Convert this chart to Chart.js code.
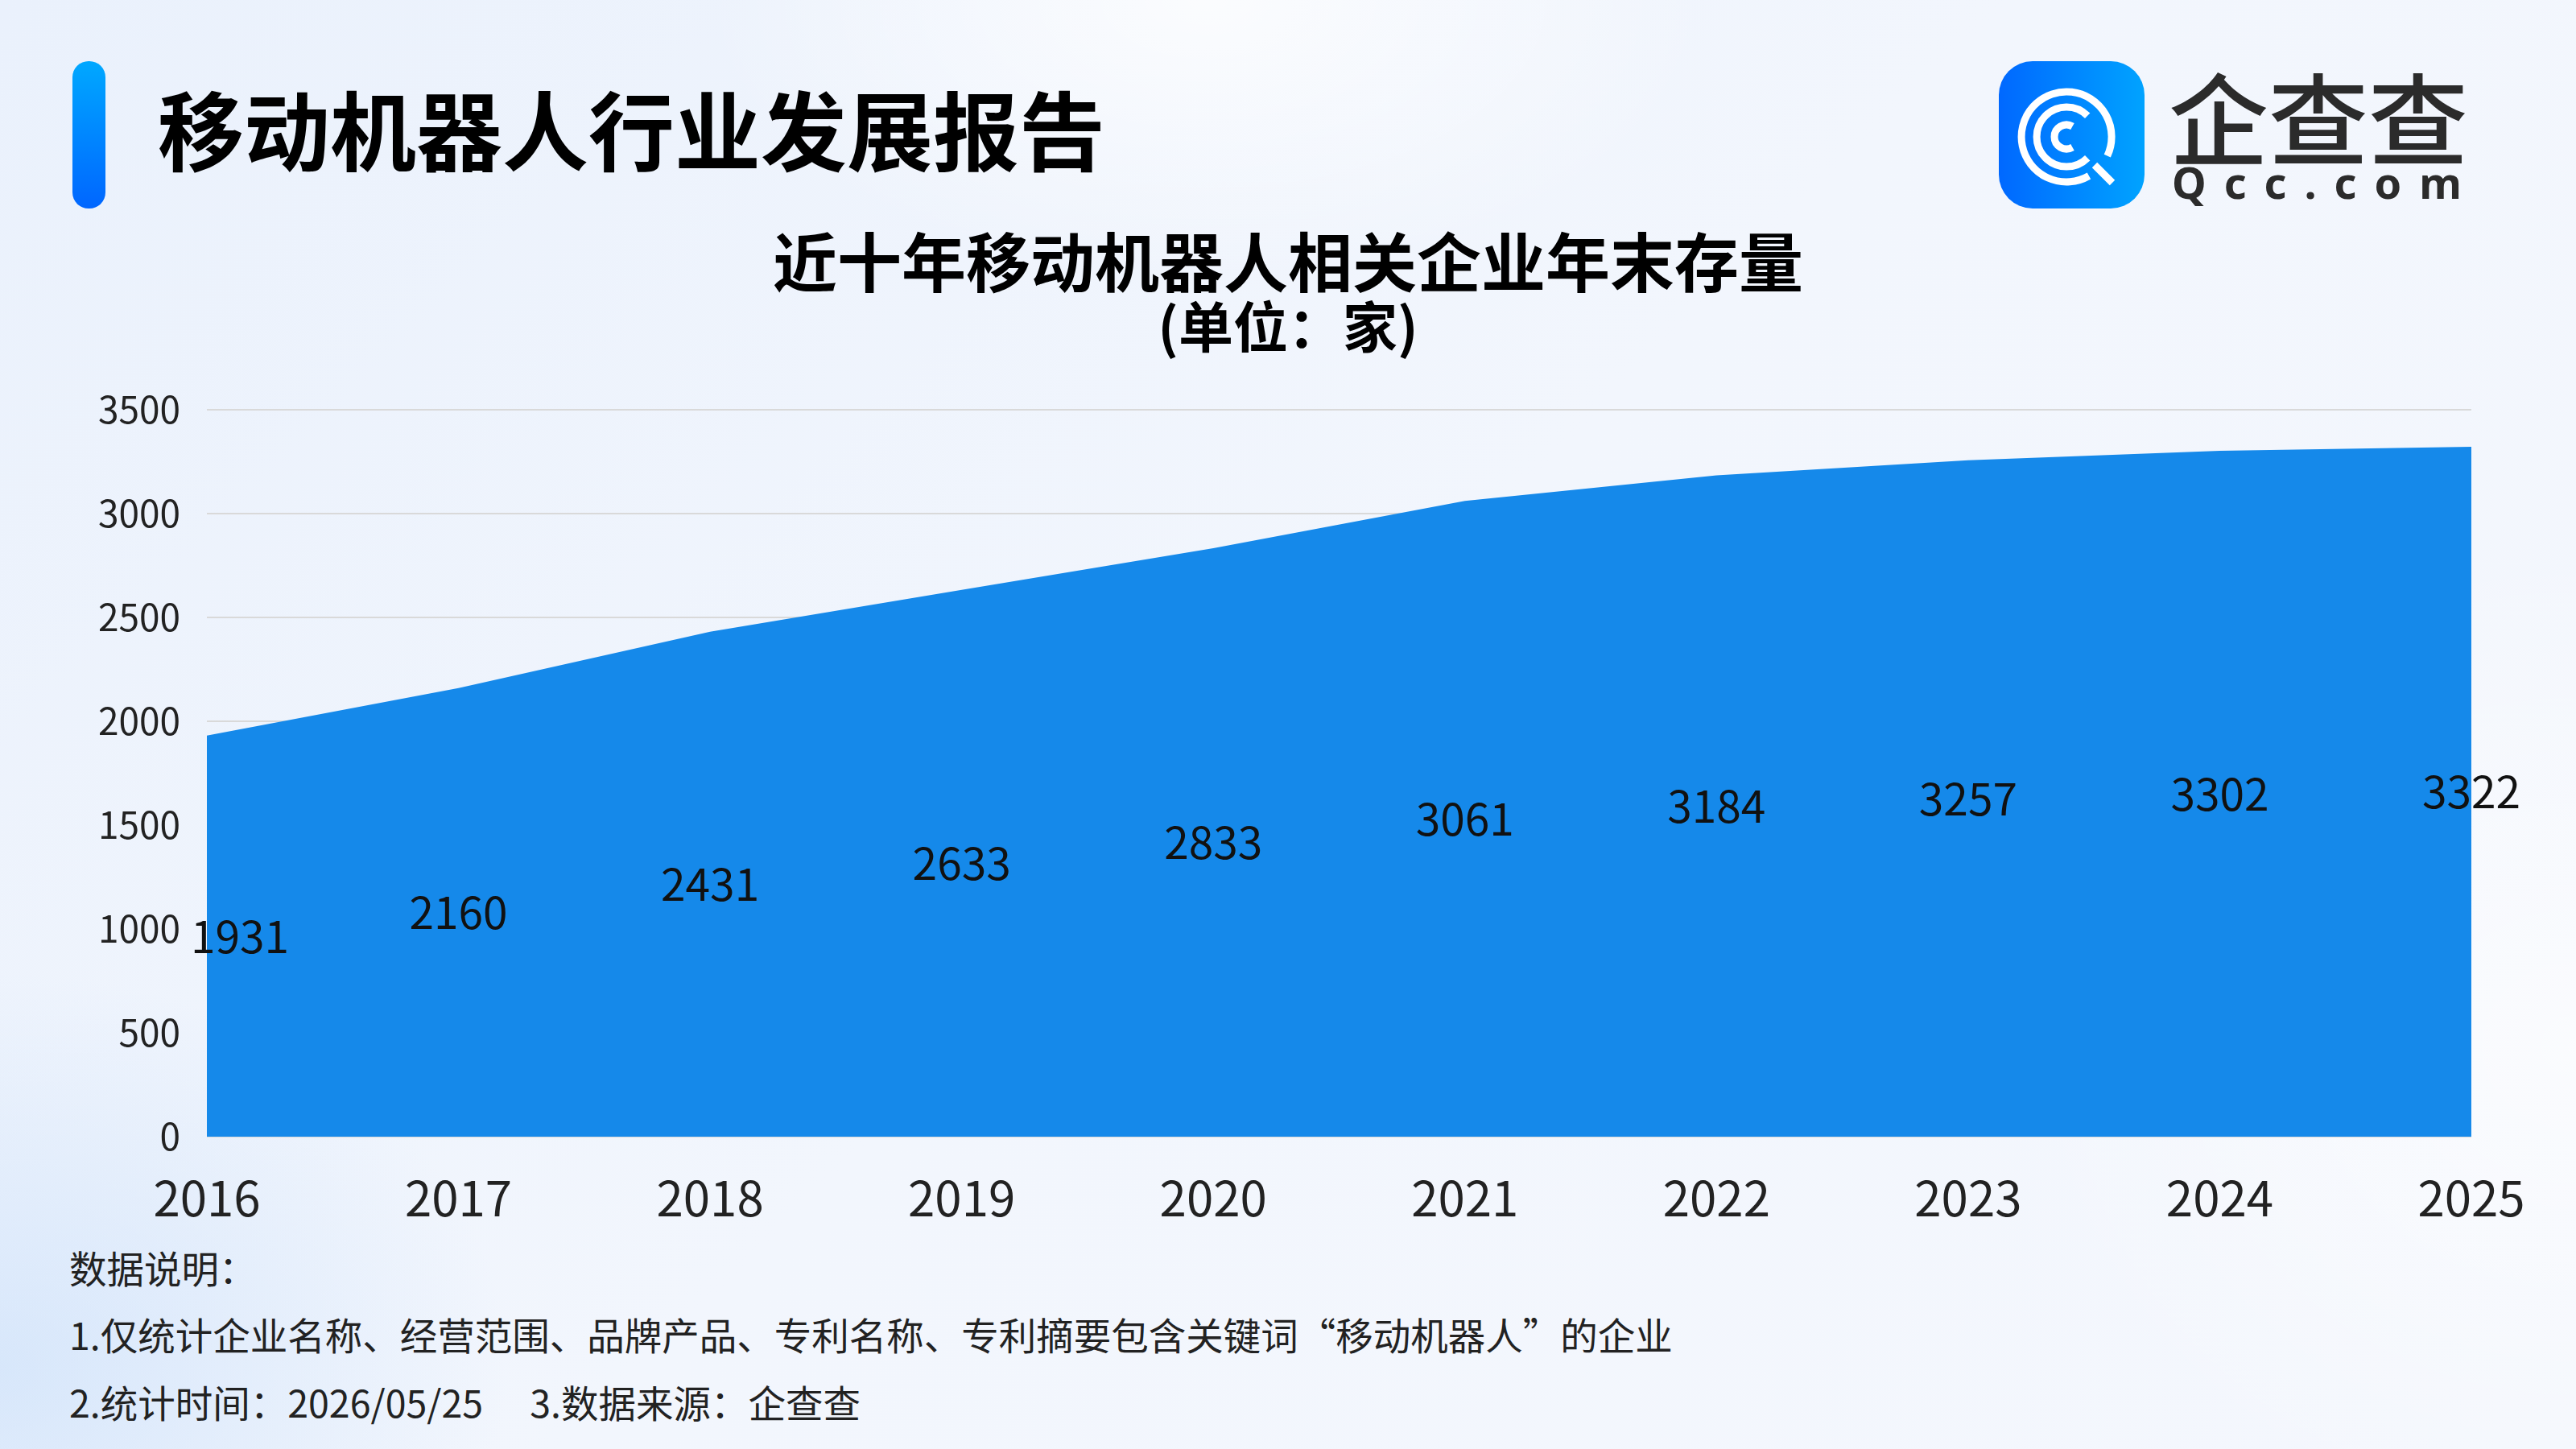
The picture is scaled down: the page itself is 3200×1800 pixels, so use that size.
<!DOCTYPE html>
<html lang="zh-CN">
<head>
<meta charset="utf-8">
<title>移动机器人行业发展报告</title>
<script src="https://cdn.jsdelivr.net/npm/chart.js@4.4.1/dist/chart.umd.min.js"></script>
<style>
    html, body {
        margin: 0;
        padding: 0;
    }
    body {
        width: 3200px;
        height: 1800px;
        position: relative;
        overflow: hidden;
        font-family: 'Noto Sans CJK SC', 'Noto Sans', sans-serif;
        color: #111;
        background:
            radial-gradient(ellipse 900px 500px at 1500px 0px, rgba(255,255,255,0.75), rgba(255,255,255,0) 70%),
            radial-gradient(ellipse 1000px 900px at 3200px 1300px, rgba(255,255,255,0.6), rgba(255,255,255,0) 70%),
            radial-gradient(ellipse 900px 700px at 0px 1700px, rgba(205,225,250,0.7), rgba(205,225,250,0) 70%),
            linear-gradient(135deg, #eaf1fc 0%, #f2f6fd 50%, #f4f7fd 100%);
    }
    .bar {
        position: absolute;
        left: 90px;
        top: 76px;
        width: 41px;
        height: 183px;
        border-radius: 20px;
        background: linear-gradient(180deg, #00a8ff 0%, #0066ff 100%);
    }
    .head {
        position: absolute;
        left: 196px;
        top: 95px;
        font-size: 107px;
        line-height: 126px;
        font-weight: 700;
        color: #000;
    }
    .logo-icon {
        position: absolute;
        left: 2483px;
        top: 76px;
    }
    .logo-name {
        position: absolute;
        left: 2694px;
        top: 80px;
        font-size: 124px;
        line-height: 124px;
        font-weight: 500;
        color: #2b2b2b;
    }
    .logo-url {
        position: absolute;
        left: 2698px;
        top: 194px;
        font-family: 'Noto Sans', sans-serif;
        font-size: 54px;
        line-height: 64px;
        font-weight: 700;
        letter-spacing: 22px;
        color: #2b2b2b;
    }
    .title {
        position: absolute;
        left: 0;
        width: 3200px;
        text-align: center;
        font-weight: 700;
        color: #000;
    }
    .t1 { top: 273px; font-size: 80px; line-height: 96px; }
    .t2 { top: 363px; font-size: 68px; line-height: 80px; }
    #chart {
        position: absolute;
        left: 0;
        top: 440px;
    }
    .note {
        position: absolute;
        left: 86px;
        font-size: 46.5px;
        line-height: 54px;
        color: #222;
        white-space: pre;
    }
</style>
</head>
<body>
<div class="bar"></div>
<div class="head">移动机器人行业发展报告</div>

<svg class="logo-icon" width="181" height="183" viewBox="0 0 181 183">
    <defs>
        <linearGradient id="lg" x1="0" y1="0" x2="1" y2="0">
            <stop offset="0" stop-color="#0068ff"/>
            <stop offset="1" stop-color="#00a3ff"/>
        </linearGradient>
    </defs>
    <rect x="0" y="0" width="181" height="183" rx="42" fill="url(#lg)"/>
    <g fill="none" stroke="#fff" stroke-width="9">
        <path d="M 134.8 117.7 A 56 56 0 1 0 112 142.5"/>
        <line x1="119" y1="129" x2="141" y2="151"/>
        <path d="M 110.2 67.8 A 37 37 0 1 0 110.2 120.2"/>
        <path d="M 91.5 81 A 15 15 0 1 0 91.5 107"/>
    </g>
</svg>
<div class="logo-name">企查查</div>
<div class="logo-url">Qcc.com</div>

<div class="title t1">近十年移动机器人相关企业年末存量</div>
<div class="title t2">(单位：家)</div>

<canvas id="chart" width="3200" height="1100"></canvas>

<div class="note" style="top:1547px">数据说明：</div>
<div class="note" style="top:1630px">1.仅统计企业名称、经营范围、品牌产品、专利名称、专利摘要包含关键词“移动机器人”的企业</div>
<div class="note" style="top:1714px">2.统计时间：2026/05/25<span style="margin-left:58px">3.数据来源：企查查</span></div>

<script>
// Chart data
const years = ['2016', '2017', '2018', '2019', '2020', '2021', '2022', '2023', '2024', '2025'];
const companyCounts = [1931, 2160, 2431, 2633, 2833, 3061, 3184, 3257, 3302, 3322];
const yTicks = [0, 500, 1000, 1500, 2000, 2500, 3000, 3500];

Chart.defaults.font.family = "'Noto Sans CJK SC', 'Noto Sans', sans-serif";

// Draw the value of each point half way up the area
const valueLabels = {
    id: 'valueLabels',
    afterDatasetsDraw(chart) {
        const ctx = chart.ctx;
        const yScale = chart.scales.y;
        const area = chart.chartArea;
        const meta = chart.getDatasetMeta(0);
        ctx.save();
        ctx.font = "400 55px 'Noto Sans CJK SC', 'Noto Sans', sans-serif";
        ctx.fillStyle = '#111';
        ctx.textAlign = 'center';
        ctx.textBaseline = 'middle';
        meta.data.forEach((point, i) => {
            const value = companyCounts[i];
            const text = String(value);
            const w = ctx.measureText(text).width;
            let x = point.x;
            // keep the label from running into the y axis labels
            if (x - w / 2 < area.left - 20) {
                x = area.left - 20 + w / 2;
            }
            const y = yScale.getPixelForValue(value / 2);
            ctx.fillText(text, x, y);
        });
        ctx.restore();
    }
};

const ctx = document.getElementById('chart').getContext('2d');
const chart = new Chart(ctx, {
    type: 'line',
    data: {
        labels: years,
        datasets: [
            {
                label: '企业年末存量',
                data: companyCounts,
                fill: 'origin',
                backgroundColor: '#1589ea',
                borderWidth: 0,
                pointRadius: 0,
                tension: 0
            }
        ]
    },
    options: {
        responsive: false,
        animation: false,
        layout: {
            padding: { top: 69, left: 100, right: 130, bottom: 16 }
        },
        plugins: {
            legend: { display: false },
            tooltip: { enabled: false }
        },
        scales: {
            x: {
                offset: false,
                afterFit(scale) {
                    scale.height = 112;
                },
                grid: { display: false, drawTicks: false },
                border: { display: false },
                ticks: {
                    color: '#222',
                    font: { size: 60 },
                    padding: 40,
                    maxRotation: 0
                }
            },
            y: {
                min: yTicks[0],
                max: yTicks[yTicks.length - 1],
                afterFit(scale) {
                    scale.width = 157;
                },
                afterBuildTicks(scale) {
                    scale.ticks = yTicks.map(v => ({ value: v }));
                },
                grid: {
                    color: '#d9d9d9',
                    lineWidth: 2,
                    drawTicks: false
                },
                border: { display: false },
                ticks: {
                    color: '#222',
                    font: { size: 46 },
                    padding: 33,
                    callback: value => String(value)
                }
            }
        }
    },
    plugins: [valueLabels]
});
</script>
</body>
</html>
